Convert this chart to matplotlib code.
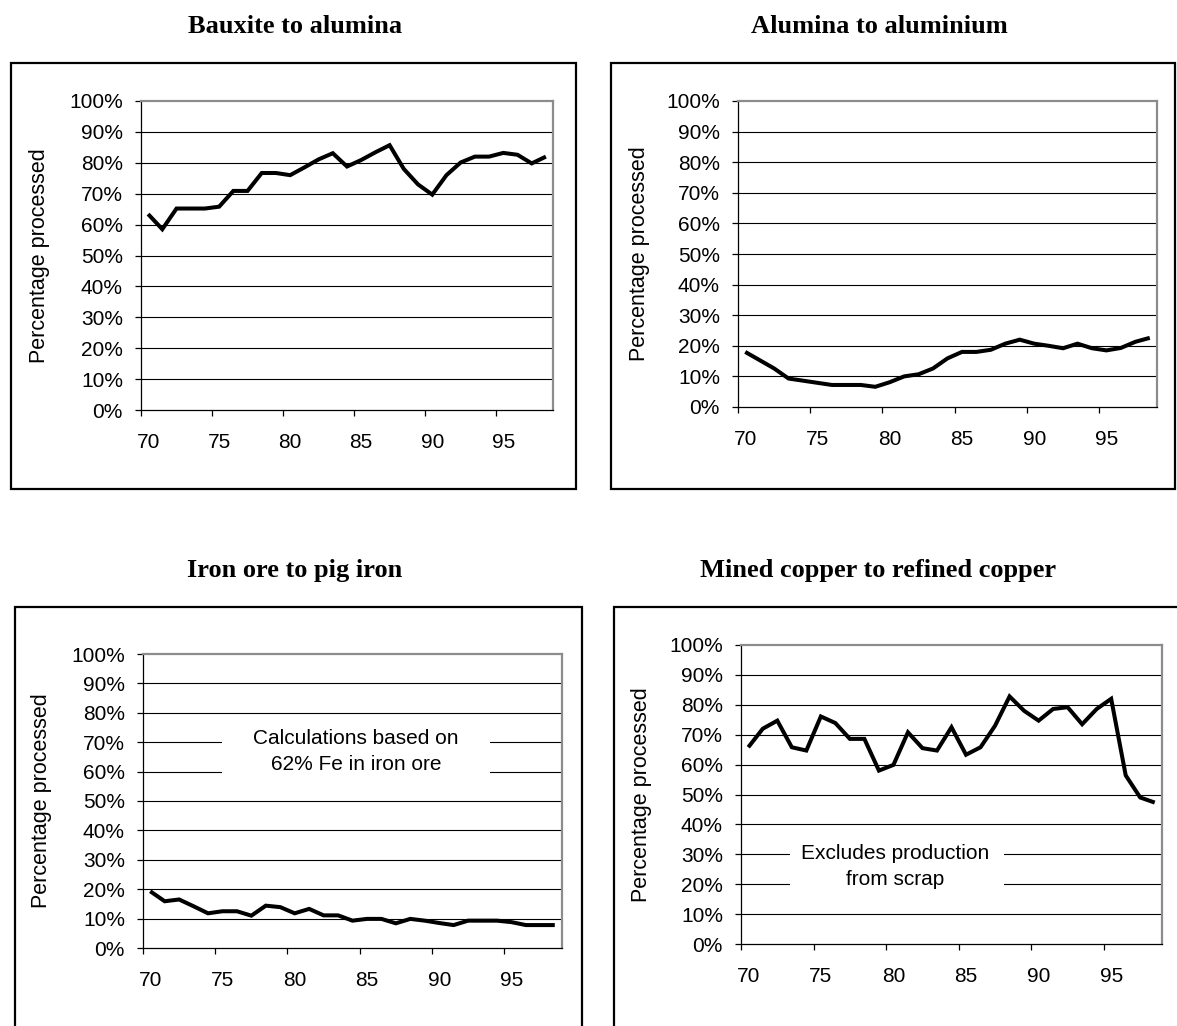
import numpy as np
import matplotlib
matplotlib.use("Agg")
import matplotlib.pyplot as plt
from matplotlib.patches import Rectangle

# ---------------- data ----------------
years = list(range(70, 99))
year_labels = ["70", "75", "80", "85", "90", "95"]
y_ticks = [0, 10, 20, 30, 40, 50, 60, 70, 80, 90, 100]

bauxite_to_alumina = [63.4, 58.5, 65.2, 65.2, 65.2, 65.8, 70.9, 70.9, 76.7, 76.7,
                      76.0, 78.5, 81.1, 83.1, 78.8, 80.9, 83.4, 85.7, 78.0, 73.0,
                      69.7, 76.0, 80.1, 82.0, 82.0, 83.2, 82.6, 79.8, 82.0]
alumina_to_aluminium = [18.0, 15.3, 12.6, 9.3, 8.6, 7.9, 7.2, 7.2, 7.2, 6.6,
                        8.1, 10.0, 10.7, 12.6, 15.9, 18.0, 18.0, 18.7, 20.7, 22.0,
                        20.7, 20.0, 19.2, 20.7, 19.2, 18.5, 19.3, 21.3, 22.6]
iron_ore_to_pig_iron = [19.3, 15.9, 16.5, 14.2, 11.8, 12.5, 12.5, 11.0, 14.4, 13.9,
                        11.8, 13.3, 11.1, 11.1, 9.3, 9.9, 9.9, 8.4, 9.9, 9.3,
                        8.5, 7.8, 9.3, 9.3, 9.3, 8.8, 7.8, 7.8, 7.8]
mined_to_refined_copper = [65.8, 72.0, 74.7, 65.8, 64.7, 76.1, 73.9, 68.6, 68.6, 58.0,
                           59.9, 70.8, 65.5, 64.7, 72.5, 63.3, 65.8, 73.0, 82.8, 78.0,
                           74.7, 78.6, 79.2, 73.5, 78.6, 82.0, 56.4, 49.0, 47.3]

titles = ["Bauxite to alumina", "Alumina to aluminium",
          "Iron ore to pig iron", "Mined copper to refined copper"]
ylabel = "Percentage processed"
note_iron = "Calculations based on\n62% Fe in iron ore"
note_copper = "Excludes production\nfrom scrap"

# ---------------- layout (pixels) ----------------
W, H = 1177, 1026
fig = plt.figure(figsize=(W / 100, H / 100), dpi=100)
SANS = "Liberation Sans"
SERIF = "Liberation Serif"


def fx(px):
    return px / W


def fy(py):
    return 1 - py / H


def add_box(x0, y0, x1, y1):
    fig.patches.append(Rectangle((fx(x0), fy(y1)), fx(x1) - fx(x0), fy(y0) - fy(y1),
                                 transform=fig.transFigure, fill=False,
                                 edgecolor="black", linewidth=1.6, clip_on=False))


panels = [
    # box, plot area, title (cx, baseline), ylabel x
    dict(box=(11, 63, 576, 489), plot=(141, 101, 553, 410), title=(295, 33), ylx=40),
    dict(box=(611, 63, 1175, 489), plot=(738, 101, 1157, 407), title=(879, 33), ylx=640),
    dict(box=(15, 607, 582, 1040), plot=(143, 654, 562, 948), title=(295, 577), ylx=41),
    dict(box=(614, 607, 1190, 1040), plot=(741, 645, 1162, 944), title=(878, 577), ylx=641),
]
series = [bauxite_to_alumina, alumina_to_aluminium, iron_ore_to_pig_iron, mined_to_refined_copper]

n = len(years)
xpos = np.arange(n) + 0.5
major = [i for i, y in enumerate(years) if str(y) in year_labels]
minor = [m + 0.5 for m in major]

axes = []
for p, vals, title in zip(panels, series, titles):
    add_box(*p["box"])
    x0, y0, x1, y1 = p["plot"]
    ax = fig.add_axes([fx(x0), fy(y1), fx(x1) - fx(x0), fy(y0) - fy(y1)])
    ax.set_xlim(0, n)
    ax.set_ylim(0, 100)
    for yv in y_ticks[1:-1]:
        ax.axhline(yv, color="black", linewidth=0.8, zorder=1)
    ax.plot(xpos, vals, color="black", linewidth=2.9, zorder=3,
            solid_joinstyle="miter", solid_capstyle="butt")
    ax.set_yticks(y_ticks)
    ax.set_yticklabels([f"{v}%" for v in y_ticks], fontfamily=SANS, fontsize=15)
    ax.set_xticks(major)
    ax.set_xticklabels([""] * len(major))
    ax.set_xticks(minor, minor=True)
    ax.set_xticklabels(year_labels, minor=True, fontfamily=SANS, fontsize=15)
    ax.tick_params(axis="y", direction="out", length=4.5, width=0.9, pad=8.5, colors="black")
    ax.tick_params(axis="x", which="major", direction="out", length=4.5, width=0.9)
    ax.tick_params(axis="x", which="minor", length=0, pad=16.5)
    for s in ("left", "bottom"):
        ax.spines[s].set_color("black")
        ax.spines[s].set_linewidth(0.9)
    for s in ("top", "right"):
        ax.spines[s].set_color("#8c8c8c")
        ax.spines[s].set_linewidth(1.6)
    ax.set_facecolor("white")
    fig.text(fx(p["title"][0]), fy(p["title"][1]), title, ha="center", va="baseline",
             fontfamily=SERIF, fontweight="bold", fontsize=19)
    fig.text(fx(p["ylx"]), fy((y0 + y1) / 2), ylabel, rotation=90, ha="center", va="center",
             fontfamily=SANS, fontsize=15.5)
    axes.append(ax)

# annotations
ax = axes[2]
ax.add_patch(Rectangle((5.5, 53), 18.5, 24, facecolor="white", edgecolor="none", zorder=2))
ax.text(14.75, 66.8, note_iron, ha="center", va="center", fontfamily=SANS, fontsize=15,
        linespacing=1.45, zorder=4)

ax = axes[3]
ax.add_patch(Rectangle((3.4, 14), 14.7, 23, facecolor="white", edgecolor="none", zorder=2))
ax.text(10.6, 25.9, note_copper, ha="center", va="center", fontfamily=SANS, fontsize=15,
        linespacing=1.45, zorder=4)

fig.savefig("out.png", dpi=100, facecolor="white")
